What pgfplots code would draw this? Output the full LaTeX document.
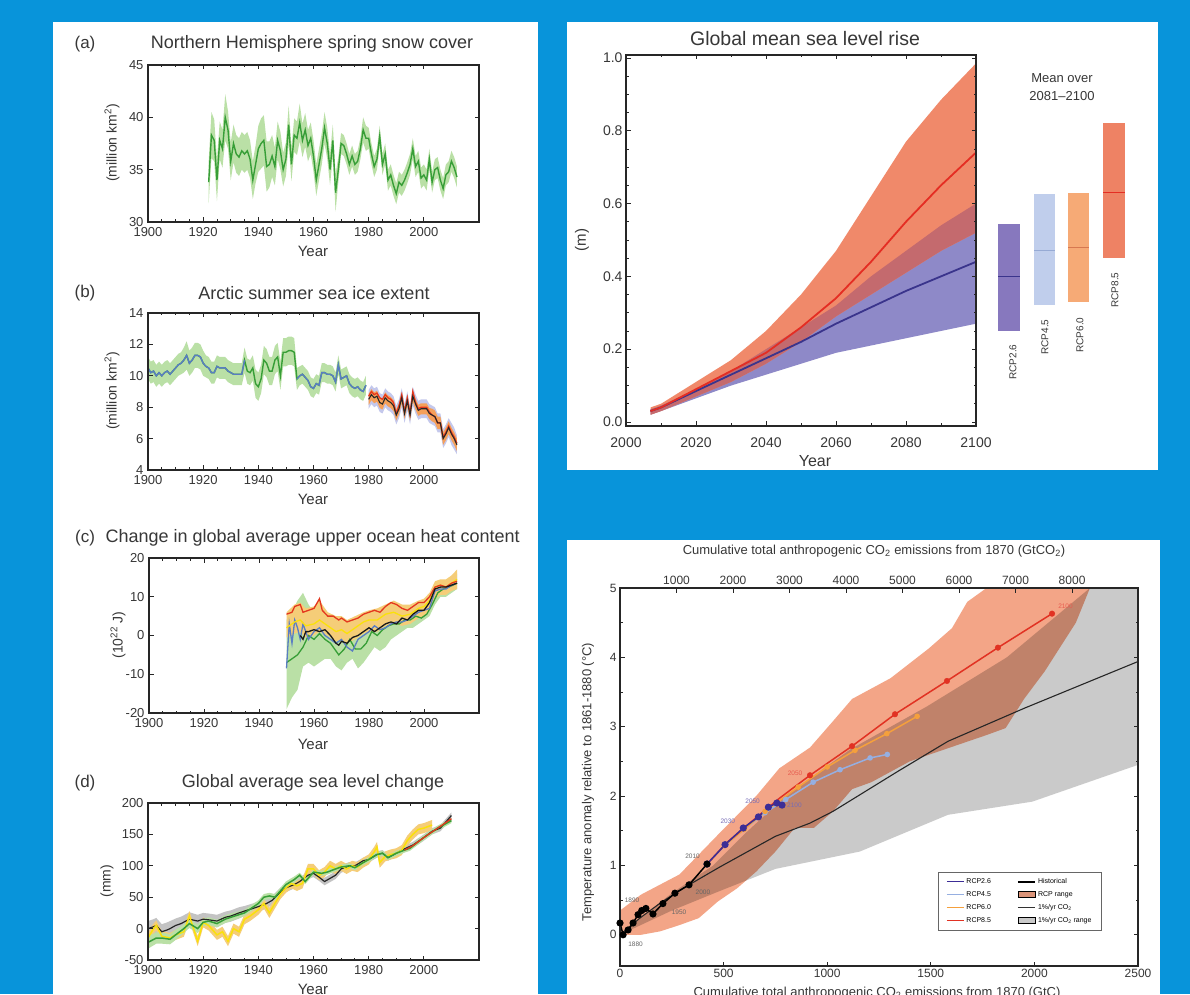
\documentclass[border=0pt]{standalone}
\usepackage{fontspec}
\setmainfont{Liberation Sans}
\usepackage{pgfplots}
\pgfplotsset{compat=1.18}
\usepackage{pgfplotstable}
\usepgfplotslibrary{fillbetween}
\definecolor{bgblue}{RGB}{8,148,218}
\definecolor{txt}{RGB}{55,55,55}
\definecolor{lgreen}{RGB}{55,158,55}
\definecolor{bgreen}{RGB}{186,224,166}
\definecolor{lblue}{RGB}{90,125,195}
\definecolor{bblue}{RGB}{196,200,236}
\definecolor{borange}{RGB}{245,160,90}
\definecolor{lred}{RGB}{228,55,30}
\definecolor{lyellow}{RGB}{250,225,10}
\definecolor{byellow}{RGB}{245,205,120}
\definecolor{bgray}{RGB}{195,195,195}
\definecolor{coral}{RGB}{240,137,106}
\definecolor{purp}{RGB}{142,137,200}
\definecolor{overl}{RGB}{196,106,110}
\definecolor{navy}{RGB}{58,52,140}
\definecolor{rline}{RGB}{228,45,35}
\definecolor{bar26}{RGB}{135,120,190}
\definecolor{bar45}{RGB}{192,206,236}
\definecolor{bar60}{RGB}{246,170,118}
\definecolor{bar85}{RGB}{238,130,100}
\definecolor{med45}{RGB}{150,170,212}
\definecolor{med60}{RGB}{215,120,80}
\definecolor{rcpr}{RGB}{243,165,135}
\definecolor{grayr}{RGB}{202,202,202}
\definecolor{c26}{RGB}{60,45,150}
\definecolor{c45}{RGB}{150,175,225}
\definecolor{c60}{RGB}{245,160,60}
\definecolor{c85}{RGB}{225,50,35}
\newcommand{\fs}[1]{\fontsize{#1}{#1}\selectfont}

\pgfplotstableread{
yr m e
1922 33.8 2.0
1923 38.3 2.2
1924 37.8 2.0
1925 34.0 2.0
1926 37.8 1.8
1927 37.0 1.8
1928 40.0 2.2
1929 38.8 1.8
1930 35.8 1.8
1931 37.5 1.8
1932 36.5 1.8
1933 36.2 1.8
1934 36.8 1.8
1935 36.5 1.8
1936 36.8 1.8
1937 36.0 1.8
1938 34.0 1.8
1939 35.5 1.8
1940 37.0 2.2
1941 37.5 2.4
1942 37.8 2.4
1943 35.3 2.4
1944 35.5 2.2
1945 36.3 2.0
1946 35.3 1.8
1947 37.8 1.8
1948 36.8 1.8
1949 35.0 1.6
1950 36.0 1.6
1951 39.3 1.8
1952 35.5 1.6
1953 38.3 1.6
1954 38.0 1.6
1955 39.5 1.8
1956 37.8 1.6
1957 38.8 1.6
1958 37.3 1.5
1959 38.0 1.5
1960 36.3 1.5
1961 34.0 1.5
1962 35.5 1.5
1963 37.0 1.5
1964 39.0 1.5
1965 37.5 1.5
1966 35.0 1.5
1967 37.8 1.5
1968 32.8 1.8
1969 35.0 1.2
1970 37.5 1.0
1971 37.3 1.0
1972 36.5 1.0
1973 35.5 1.0
1974 36.3 1.0
1975 35.5 1.0
1976 35.8 1.0
1977 37.0 1.0
1978 38.8 1.2
1979 38.0 1.2
1980 38.0 1.0
1981 36.5 1.0
1982 35.3 1.0
1983 36.0 1.0
1984 38.2 1.0
1985 35.5 1.0
1986 36.5 1.0
1987 34.0 1.0
1988 34.5 1.0
1989 33.5 1.0
1990 32.7 1.0
1991 33.8 1.0
1992 33.5 1.0
1993 34.0 1.0
1994 34.7 1.0
1995 35.5 1.0
1996 37.0 1.0
1997 35.3 1.0
1998 35.8 1.0
1999 34.2 1.0
2000 34.5 1.0
2001 34.0 1.0
2002 36.0 1.0
2003 33.8 1.0
2004 35.0 1.0
2005 35.2 1.0
2006 34.0 1.0
2007 33.2 1.0
2008 34.5 1.0
2009 34.8 1.0
2010 35.8 1.0
2011 35.2 1.0
2012 34.3 1.0
}\tabA

\pgfplotstableread{
yr m e
1900 10.5 0.7
1901 10.2 0.7
1902 10.3 0.7
1903 10.0 0.7
1904 10.2 0.7
1905 10.0 0.7
1906 10.2 0.7
1907 10.3 0.7
1908 10.1 0.7
1909 10.3 0.7
1910 10.5 0.7
1911 10.7 0.7
1912 10.8 0.7
1913 11.0 0.8
1914 11.3 0.9
1915 10.8 0.8
1916 11.0 0.8
1917 11.3 0.8
1918 11.3 0.8
1919 11.2 0.8
1920 10.8 0.8
1921 10.6 0.7
1922 10.5 0.7
1923 10.2 0.7
1924 10.2 0.7
1925 10.6 0.7
1926 10.5 0.7
1927 10.5 0.7
1928 10.5 0.7
1929 10.3 0.7
1930 10.2 0.7
1931 10.1 0.7
1932 10.1 0.7
1933 10.1 0.7
1934 10.1 0.7
1935 11.0 0.8
1936 10.3 0.8
1937 10.2 0.8
1938 10.5 0.8
1939 9.5 0.9
1940 9.3 0.9
1941 9.8 0.9
1942 11.0 0.9
1943 10.8 0.9
1944 10.3 0.9
1945 10.3 0.9
1946 11.0 0.9
1947 11.2 0.9
1948 10.0 0.9
1949 11.5 0.9
1950 11.5 0.9
1951 11.6 0.9
1952 11.6 0.9
1953 11.5 0.9
1954 9.8 0.7
1955 10.0 0.6
1956 10.1 0.6
1957 9.9 0.6
1958 9.7 0.6
1959 9.3 0.6
1960 9.2 0.6
1961 9.5 0.6
1962 9.4 0.6
1963 10.2 0.6
1964 10.2 0.6
1965 10.1 0.6
1966 10.1 0.6
1967 10.0 0.6
1968 9.6 0.6
1969 10.7 0.6
1970 9.8 0.6
1971 9.9 0.6
1972 10.0 0.6
1973 9.5 0.6
1974 9.3 0.6
1975 9.2 0.6
1976 9.3 0.6
1977 9.1 0.6
1978 9.0 0.6
1979 9.4 0.6
}\tabB

\pgfplotstableread{
yr k r eb eo
1980 8.5 8.7 0.6 0.35
1981 8.8 9.0 0.6 0.35
1982 8.6 8.8 0.6 0.35
1983 8.7 8.9 0.6 0.35
1984 8.3 8.6 0.6 0.35
1985 8.2 8.5 0.6 0.35
1986 8.6 8.8 0.6 0.35
1987 8.4 8.6 0.6 0.35
1988 8.3 8.5 0.6 0.35
1989 8.1 8.3 0.6 0.35
1990 7.5 7.6 0.6 0.35
1991 7.9 8.1 0.6 0.35
1992 8.6 8.8 0.6 0.35
1993 7.6 7.7 0.6 0.35
1994 8.4 8.6 0.6 0.35
1995 7.5 7.6 0.6 0.35
1996 8.7 9.0 0.6 0.35
1997 8.2 8.3 0.6 0.35
1998 7.8 7.9 0.6 0.35
1999 7.9 8.0 0.6 0.35
2000 7.9 8.0 0.6 0.35
2001 7.9 8.0 0.6 0.35
2002 7.6 7.7 0.6 0.35
2003 7.5 7.5 0.6 0.4
2004 7.4 7.4 0.6 0.4
2005 7.0 7.0 0.6 0.4
2006 7.0 7.0 0.6 0.4
2007 6.0 6.1 0.6 0.4
2008 6.3 6.4 0.6 0.4
2009 6.7 6.8 0.6 0.4
2010 6.3 6.4 0.7 0.4
2011 6.0 6.1 0.7 0.4
2012 5.6 5.7 0.6 0.4
}\tabBb

\pgfplotstableread{
yr k e
1900 0 12
1902 3 12
1903 5 12
1905 -5 12
1907 -2 12
1908 0 12
1910 5 11
1912 8 11
1915 15 11
1918 12 10
1920 15 10
1922 14 10
1925 12 10
1928 18 9
1930 20 9
1933 25 9
1935 28 8
1938 32 8
1940 35 8
1943 40 8
1945 45 7
1948 58 7
1950 65 7
1953 70 6
1955 75 6
1958 85 6
1960 88 6
1962 82 6
1964 75 6
1966 80 6
1968 85 6
1970 95 6
1973 100 6
1975 100 5
1978 108 5
1980 110 5
1983 118 5
1985 120 5
1987 113 5
1990 120 5
1993 127 5
1996 133 5
2000 145 5
2003 155 5
2006 160 5
2008 170 5
2010 180 5
}\tabDk

\pgfplotstableread{
yr g e
1900 -22 10
1903 -15 9
1905 -15 9
1908 -17 8
1910 -10 8
1913 0 7
1915 8 7
1918 0 7
1920 10 6
1922 12 6
1925 8 6
1928 15 6
1930 18 6
1935 25 5
1940 40 5
1942 50 5
1944 52 5
1946 50 5
1950 70 5
1953 78 5
1955 85 4
1957 75 4
1960 90 4
1963 88 4
1965 90 4
1968 95 4
1970 98 4
1973 100 4
1975 97 4
1978 105 4
1980 110 4
1983 118 4
1985 120 4
1987 113 4
1990 120 4
1993 125 4
1995 128 4
2000 145 4
2005 160 4
2010 172 4
}\tabDg

\pgfplotstableread{
yr y e
1900 -15 8
1902 0 8
1903 5 8
1905 -12 8
1908 -15 8
1910 -10 8
1913 -5 8
1915 20 8
1918 -20 8
1920 10 8
1922 5 8
1925 -10 8
1927 -5 8
1929 -20 8
1931 0 8
1933 -5 8
1935 15 8
1937 20 8
1940 30 8
1942 40 8
1944 25 8
1946 40 8
1948 55 8
1950 65 8
1952 72 8
1954 68 8
1956 72 8
1958 95 8
1960 95 8
1962 85 8
1964 90 8
1966 100 8
1968 95 8
1970 100 8
1972 95 8
1974 100 8
1976 98 8
1978 105 8
1980 110 8
1982 122 8
1983 130 8
1984 105 8
1986 115 8
1988 118 8
1990 120 8
1992 125 8
1994 140 8
1996 150 8
1998 158 8
2000 160 8
2003 165 8
}\tabDy

\pgfplotsset{
  base/.style={scale only axis, anchor=south west,
    axis line style={line width=1.1pt, black!85},
    every tick/.style={black!85, line width=0.8pt},
    tick align=inside, major tick length=4.5pt, minor tick length=2.5pt,
    /pgf/number format/1000 sep={}, /pgf/number format/assume math mode=true,
    axis on top, tick label style={text=txt}},
  lp/.style={base, width=331pt, height=157pt, xmin=1900, xmax=2020,
    xtick={1900,1920,1940,1960,1980,2000}, minor x tick num=3,
    tick label style={font=\fs{13}}, xticklabel style={yshift=-1.5pt},
    yticklabel style={xshift=-1pt}},
}

\begin{document}
\begin{tikzpicture}

% ---------- (a)  (also carries the page background on the lowest layer)
\begin{axis}[lp, set layers, clip=false, at={(148pt,772pt)}, ymin=30, ymax=45, ytick={30,35,40,45}]
\begin{pgfonlayer}{axis background}
\fill[bgblue] (rel axis cs:-0.447130,-4.917197) rectangle (rel axis cs:3.148036,1.414013);
\fill[white] (rel axis cs:-0.287009,-4.917197) rectangle (rel axis cs:1.178248,1.273885);
\fill[white] (rel axis cs:1.265861,-1.579618) rectangle (rel axis cs:3.051360,1.273885);
\fill[white] (rel axis cs:1.265861,-4.917197) rectangle (rel axis cs:3.057402,-2.025478);
\end{pgfonlayer}
\addplot[name path=au, draw=none] table[x=yr, y expr=\thisrow{m}+\thisrow{e}] \tabA;
\addplot[name path=al, draw=none] table[x=yr, y expr=\thisrow{m}-\thisrow{e}] \tabA;
\addplot[fill=bgreen, draw=none] fill between[of=au and al];
\addplot[lgreen, line width=1.4pt] table[x=yr, y=m] \tabA;
\end{axis}

% ---------- (b)
\begin{axis}[lp, set layers, at={(148pt,524pt)}, ymin=4, ymax=14, ytick={4,6,8,10,12,14}]
\addplot[name path=bu, draw=none] table[x=yr, y expr=\thisrow{m}+\thisrow{e}] \tabB;
\addplot[name path=bl, draw=none] table[x=yr, y expr=\thisrow{m}-\thisrow{e}] \tabB;
\addplot[fill=bgreen, draw=none] fill between[of=bu and bl];
\addplot[name path=cu, draw=none] table[x=yr, y expr=\thisrow{k}+\thisrow{eb}] \tabBb;
\addplot[name path=cl, draw=none] table[x=yr, y expr=\thisrow{k}-\thisrow{eb}] \tabBb;
\addplot[fill=bblue, draw=none] fill between[of=cu and cl];
\addplot[name path=du, draw=none] table[x=yr, y expr=\thisrow{k}+\thisrow{eo}] \tabBb;
\addplot[name path=dl, draw=none] table[x=yr, y expr=\thisrow{k}-\thisrow{eo}] \tabBb;
\addplot[fill=borange, draw=none] fill between[of=du and dl];
\addplot[lgreen, line width=1.4pt] table[x=yr, y=m] \tabB;
\addplot[lblue, line width=1.4pt, restrict x to domain=1900:1935] table[x=yr, y=m] \tabB;
\addplot[lblue, line width=1.4pt, restrict x to domain=1954:1979] table[x=yr, y=m] \tabB;
\addplot[lred, line width=1.3pt] table[x=yr, y=r] \tabBb;
\addplot[black!85, line width=1.1pt] table[x=yr, y=k] \tabBb;
\end{axis}

% ---------- (c)
\begin{axis}[lp, at={(149pt,281pt)}, width=330pt, height=155pt, ymin=-20, ymax=20, ytick={-20,-10,0,10,20}]
\addplot[fill=bgreen, draw=none] coordinates {(1950,4) (1952,6) (1954,9) (1956,11) (1958,8) (1960,6) (1962,7) (1964,5) (1966,3) (1968,2) (1970,2) (1972,1) (1974,1) (1976,2) (1978,3) (1980,5) (1982,5) (1984,5) (1986,6) (1988,6) (1990,6) (1992,6) (1994,6) (1996,7) (1998,7) (2000,8) (2002,9) (2004,12) (2006,13) (2008,14) (2010,15) (2012,16)
 (2012,12) (2010,11) (2008,10) (2006,10) (2004,8) (2002,5) (2000,4) (1998,3) (1996,2) (1994,2) (1992,1) (1990,0) (1988,-1) (1986,-3) (1984,-4) (1982,-3) (1980,-5) (1978,-7) (1976,-8.5) (1974,-6) (1972,-7) (1970,-9) (1968,-8) (1966,-6) (1964,-6) (1962,-7) (1960,-8) (1958,-7) (1956,-8) (1954,-14) (1952,-16) (1950,-19)};
\addplot[fill=byellow, draw=none] coordinates {(1950,6) (1953,8) (1955,8.5) (1957,7) (1960,7.5) (1962,9) (1965,6) (1968,5) (1970,5) (1972,4) (1975,5) (1978,6) (1980,6.5) (1983,7) (1986,8) (1989,9) (1992,8) (1995,8) (1998,9) (2000,9.5) (2002,11) (2004,14) (2006,14.5) (2008,14.5) (2010,15.5) (2012,17)
 (2012,12) (2010,11.5) (2008,10.5) (2006,10.5) (2004,9.5) (2002,6.5) (2000,5) (1998,4.5) (1995,3) (1992,2.5) (1989,3) (1986,2.5) (1983,1) (1980,1) (1978,0.5) (1975,-1) (1972,-2) (1970,-1) (1968,-1.5) (1965,0) (1962,1) (1960,0) (1957,-0.5) (1955,1) (1953,0.5) (1950,-0.5)};
\addplot[lgreen, line width=1.3pt] coordinates {(1950,-7) (1952,-6) (1954,-5) (1956,-3) (1958,0) (1960,-1) (1962,0.5) (1964,-1) (1966,-2) (1968,-4) (1969,-5) (1971,-3.5) (1973,-1) (1975,-3.5) (1977,-3.5) (1979,-2) (1981,1) (1983,0) (1985,1.5) (1987,2.5) (1989,3) (1991,3) (1993,4) (1995,4) (1997,5) (1999,4.5) (2001,5.5) (2003,8) (2005,11) (2007,12) (2009,12.5) (2012,13.5)};
\addplot[lblue, line width=1.3pt] coordinates {(1950,-8.5) (1951,3) (1952,-2) (1953,4) (1954,2) (1955,-1) (1956,3) (1958,-1) (1960,1) (1962,2) (1964,0) (1966,-1) (1968,-2) (1970,-1) (1972,-3) (1974,-4) (1976,-1) (1978,0) (1980,1) (1982,2.5) (1984,1.5) (1986,2) (1988,3) (1990,3.5) (1992,3.5) (1994,4) (1996,5) (1998,6) (2000,6.5) (2002,7) (2004,11.5) (2006,12) (2008,12) (2010,13) (2012,13.5)};
\addplot[lyellow, line width=1.3pt] coordinates {(1950,2) (1953,3.5) (1955,4) (1957,2.5) (1960,3) (1962,4) (1965,2.5) (1968,1) (1970,1.5) (1972,0.5) (1975,2) (1978,3.5) (1980,4) (1983,4) (1986,5.5) (1989,6) (1992,5) (1995,5.5) (1998,7) (2000,7.5) (2002,9) (2004,12.5) (2006,13) (2008,12.5) (2010,13.5) (2012,14.5)};
\addplot[lred, line width=1.3pt] coordinates {(1950,5.5) (1952,6) (1953,7.5) (1955,8) (1956,6) (1958,6.5) (1960,7) (1962,9.5) (1963,6.5) (1965,5) (1967,5) (1969,4) (1970,4.5) (1972,3.5) (1974,4) (1976,4.5) (1978,5.5) (1980,6) (1982,6.5) (1984,6) (1986,7.5) (1988,8.5) (1990,8) (1992,7) (1994,6.5) (1996,7.5) (1998,8.5) (2000,8.5) (2002,10) (2004,12.5) (2006,13) (2008,12.5) (2010,13.5) (2012,14)};
\addplot[black!90, line width=1.3pt] coordinates {(1955,0) (1956,-1) (1957,1) (1958,1) (1960,1.5) (1962,1) (1964,1.5) (1966,0) (1968,-2) (1969,-2.5) (1970,-1.5) (1972,-2) (1974,-0.5) (1976,0) (1978,1) (1980,2) (1982,1) (1984,2) (1986,3) (1988,3.5) (1990,3) (1992,4.5) (1994,4) (1996,5.5) (1998,6.5) (2000,6.5) (2002,8.5) (2004,12) (2006,12.5) (2008,12.5) (2010,13) (2012,13.5)};
\end{axis}

% ---------- (d)
\begin{axis}[lp, set layers, at={(148pt,34pt)}, ymin=-50, ymax=200, ytick={-50,0,50,100,150,200}]
\addplot[name path=ku, draw=none] table[x=yr, y expr=\thisrow{k}+\thisrow{e}] \tabDk;
\addplot[name path=kl, draw=none] table[x=yr, y expr=\thisrow{k}-\thisrow{e}] \tabDk;
\addplot[fill=bgray, draw=none] fill between[of=ku and kl];
\addplot[name path=yu, draw=none] table[x=yr, y expr=\thisrow{y}+\thisrow{e}] \tabDy;
\addplot[name path=yl, draw=none] table[x=yr, y expr=\thisrow{y}-\thisrow{e}] \tabDy;
\addplot[fill=byellow, draw=none] fill between[of=yu and yl];
\addplot[name path=gu, draw=none] table[x=yr, y expr=\thisrow{g}+\thisrow{e}] \tabDg;
\addplot[name path=gl, draw=none] table[x=yr, y expr=\thisrow{g}-\thisrow{e}] \tabDg;
\addplot[fill=bgreen, draw=none] fill between[of=gu and gl];
\addplot[black!85, line width=1.2pt] table[x=yr, y=k] \tabDk;
\addplot[lyellow, line width=1.5pt] table[x=yr, y=y] \tabDy;
\addplot[lgreen, line width=1.5pt] table[x=yr, y=g] \tabDg;
\addplot[lred, line width=1.3pt] coordinates {(1993,125) (1996,132) (2000,145) (2005,160) (2010,175)};
\end{axis}

% ---------- Global mean sea level rise
\begin{axis}[base, at={(626pt,568pt)}, width=350pt, height=371pt,
  xmin=2000, xmax=2100, ymin=-0.011, ymax=1.008,
  xtick={2000,2020,2040,2060,2080,2100}, minor x tick num=1,
  ytick={0,0.2,0.4,0.6,0.8,1.0}, minor y tick num=3, clip=false,
  tick label style={font=\fs{14}},
  yticklabel style={/pgf/number format/.cd, fixed, fixed zerofill, precision=1},
  xticklabel style={yshift=-8pt}]
\addplot[fill=purp, draw=none] coordinates {(2007,0.035) (2010,0.045) (2020,0.09) (2030,0.14) (2040,0.20) (2050,0.26) (2060,0.32) (2070,0.40) (2080,0.47) (2090,0.54) (2100,0.60)
 (2100,0.27) (2090,0.25) (2080,0.23) (2070,0.21) (2060,0.19) (2050,0.16) (2040,0.13) (2030,0.10) (2020,0.065) (2010,0.03) (2007,0.02)};
\addplot[fill=coral, draw=none] coordinates {(2007,0.04) (2010,0.05) (2020,0.11) (2030,0.17) (2040,0.25) (2050,0.35) (2060,0.47) (2070,0.62) (2080,0.77) (2090,0.885) (2100,0.985)
 (2100,0.52) (2090,0.47) (2080,0.41) (2070,0.35) (2060,0.29) (2050,0.22) (2040,0.16) (2030,0.11) (2020,0.07) (2010,0.03) (2007,0.02)};
\addplot[fill=overl, draw=none] coordinates {(2007,0.035) (2010,0.045) (2020,0.09) (2030,0.14) (2040,0.20) (2050,0.26) (2060,0.32) (2070,0.40) (2080,0.47) (2090,0.54) (2100,0.60)
 (2100,0.52) (2090,0.47) (2080,0.41) (2070,0.35) (2060,0.29) (2050,0.22) (2040,0.16) (2030,0.11) (2020,0.07) (2010,0.03) (2007,0.02)};
\addplot[navy, line width=1.8pt] coordinates {(2007,0.03) (2010,0.04) (2020,0.085) (2030,0.13) (2040,0.175) (2050,0.22) (2060,0.27) (2070,0.315) (2080,0.36) (2090,0.40) (2100,0.44)};
\addplot[rline, line width=1.8pt] coordinates {(2007,0.03) (2010,0.04) (2020,0.09) (2030,0.14) (2040,0.19) (2050,0.26) (2060,0.34) (2070,0.44) (2080,0.55) (2090,0.65) (2100,0.74)};
% bars: mean over 2081-2100
\addplot[fill=bar26, draw=none] coordinates {(2106.3,0.25) (2112.6,0.25) (2112.6,0.545) (2106.3,0.545)};
\addplot[fill=bar45, draw=none] coordinates {(2116.6,0.32) (2122.6,0.32) (2122.6,0.625) (2116.6,0.625)};
\addplot[fill=bar60, draw=none] coordinates {(2126.3,0.33) (2132.3,0.33) (2132.3,0.63) (2126.3,0.63)};
\addplot[fill=bar85, draw=none] coordinates {(2136.3,0.45) (2142.6,0.45) (2142.6,0.82) (2136.3,0.82)};
\addplot[navy, line width=1.2pt] coordinates {(2106.3,0.40) (2112.6,0.40)};
\addplot[med45, line width=1.2pt] coordinates {(2116.6,0.47) (2122.6,0.47)};
\addplot[med60, line width=1.2pt] coordinates {(2126.3,0.48) (2132.3,0.48)};
\addplot[rline, line width=1.2pt] coordinates {(2136.3,0.63) (2142.6,0.63)};
\end{axis}

% ---------- Temperature vs cumulative emissions
\begin{axis}[base, at={(620pt,28pt)}, width=518pt, height=378pt,
  xmin=0, xmax=2500, ymin=-0.45, ymax=5,
  xtick={0,500,1000,1500,2000,2500}, xtick pos=left,
  ytick={0,1,2,3,4,5}, minor y tick num=1,
  tick label style={font=\fs{12}},
  legend style={font=\fs{7}, draw=black!60, line width=0.5pt, fill=white,
    at={(0.93,0.095)}, anchor=south east, inner xsep=8pt, inner ysep=4pt, row sep=2.5pt,
    /tikz/every even column/.append style={column sep=24pt}},
  legend columns=2, legend cell align=left]
\addplot[fill=grayr, draw=none, forget plot] coordinates {(0,0) (250,0.6) (450,1.0) (600,1.45) (800,2.0) (1110,2.67) (1480,3.29) (1867,4.0) (2268,5.0) (2500,5.0)
 (2500,2.45) (1990,1.92) (1583,1.73) (1157,1.2) (750,0.95) (472,0.62) (250,0.35) (0,0)};
\addplot[fill=rcpr, draw=none, blend mode=multiply, forget plot] coordinates {(0,0.35) (102,0.58) (287,0.87) (472,1.44) (657,2.0) (769,2.4) (917,2.7) (1028,3.08) (1120,3.4) (1306,3.7) (1491,4.13) (1602,4.42) (1676,4.8) (1769,5.0) (2268,5.0) (2200,4.5) (2050,3.8) (1950,3.4) (1861,2.98)
 (1769,2.88) (1583,2.69) (1398,2.5) (1213,2.2) (1120,2.1) (1028,1.78) (935,1.54) (843,1.54) (750,1.2) (657,0.91) (565,0.67) (472,0.48) (380,0.24) (287,0.14) (194,0.05) (102,0.0) (28,0.0) (0,0)};
\addplot[black!85, line width=1.1pt, forget plot] coordinates {(0,0) (100,0.25) (200,0.47) (333,0.72) (483,0.98) (750,1.42) (917,1.61) (1028,1.78) (1343,2.36) (1583,2.79) (1954,3.27) (2500,3.94)};
\addplot[c45, line width=1.5pt, mark=*, mark size=2pt, forget plot] coordinates {(420,1.02) (510,1.30) (600,1.52) (700,1.76) (800,1.95) (932,2.2) (1062,2.38) (1207,2.55) (1290,2.6)};
\addplot[c60, line width=1.5pt, mark=*, mark size=2pt, forget plot] coordinates {(420,1.02) (505,1.29) (600,1.52) (700,1.78) (860,2.13) (1000,2.42) (1134,2.66) (1288,2.9) (1434,3.15)};
\addplot[c85, line width=1.5pt, forget plot] coordinates {(420,1.02) (520,1.34) (630,1.62) (770,1.97) (917,2.3) (1120,2.72) (1327,3.18) (1578,3.66) (1824,4.14) (2085,4.63)};
\addplot[c85, only marks, mark=*, mark size=2.8pt, forget plot] coordinates {(917,2.3) (1120,2.72) (1327,3.18) (1578,3.66) (1824,4.14) (2085,4.63)};
\addplot[c26, line width=1.5pt, mark=*, mark size=2.8pt, forget plot] coordinates {(420,1.02) (507,1.30) (595,1.54) (668,1.70) (716,1.84) (757,1.90) (782,1.87)};
\addplot[black, line width=1.5pt, mark=*, mark size=2.8pt, forget plot] coordinates {(0,0.17) (15,0.0) (39,0.07) (63,0.17) (87,0.29) (105,0.35) (125,0.38) (159,0.30) (207,0.45) (265,0.60) (333,0.72) (420,1.02)};
\node[font=\fs{6.5}, text=black!60] at (axis cs:75,-0.14) {1880};
\node[font=\fs{6.5}, text=black!60] at (axis cs:58,0.5) {1890};
\node[font=\fs{6.5}, text=black!60] at (axis cs:285,0.33) {1950};
\node[font=\fs{6.5}, text=black!60] at (axis cs:400,0.62) {2000};
\node[font=\fs{6.5}, text=black!60] at (axis cs:350,1.13) {2010};
\node[font=\fs{6.5}, text=c26!70] at (axis cs:520,1.63) {2030};
\node[font=\fs{6.5}, text=c26!70] at (axis cs:640,1.92) {2050};
\node[font=\fs{6.5}, text=c26!70, anchor=west] at (axis cs:790,1.87) {2100};
\node[font=\fs{6.5}, text=c85!80] at (axis cs:845,2.33) {2050};
\node[font=\fs{6.5}, text=c85!80] at (axis cs:2150,4.74) {2100};
\addlegendimage{c26, line width=1.2pt}\addlegendentry{RCP2.6}
\addlegendimage{black, line width=2pt}\addlegendentry{Historical}
\addlegendimage{c45, line width=1.2pt}\addlegendentry{RCP4.5}
\addlegendimage{area legend, fill=rcpr!90!black, draw=none}\addlegendentry{RCP range}
\addlegendimage{c60, line width=1.2pt}\addlegendentry{RCP6.0}
\addlegendimage{black!80, line width=1.2pt}\addlegendentry{1\%/yr CO\textsubscript{2}}
\addlegendimage{c85, line width=1.2pt}\addlegendentry{RCP8.5}
\addlegendimage{area legend, fill=grayr, draw=none}\addlegendentry{1\%/yr CO\textsubscript{2} range}
\end{axis}
\begin{axis}[base, at={(620pt,28pt)}, width=518pt, height=378pt,
  xmin=0, xmax=9166.7, ymin=0, ymax=1, axis x line*=top, hide y axis,
  xtick={1000,2000,3000,4000,5000,6000,7000,8000},
  tick label style={font=\fs{12}}]
\addplot[draw=none] coordinates {(0,0) (9166.7,1)};
\end{axis}

% ---------- texts
\node[font=\fs{17}, text=txt] at (85pt,950pt) {(a)};
\node[font=\fs{18}, text=txt] at (312pt,950pt) {Northern Hemisphere spring snow cover};
\node[font=\fs{15}, text=txt] at (313pt,743pt) {Year};
\node[font=\fs{14}, text=txt, rotate=90] at (112pt,851pt) {(million km\textsuperscript{2})};

\node[font=\fs{17}, text=txt] at (85pt,701pt) {(b)};
\node[font=\fs{18}, text=txt] at (314pt,701pt) {Arctic summer sea ice extent};
\node[font=\fs{15}, text=txt] at (313pt,495pt) {Year};
\node[font=\fs{14}, text=txt, rotate=90] at (112pt,603pt) {(million km\textsuperscript{2})};

\node[font=\fs{17}, text=txt] at (85pt,456pt) {(c)};
\node[font=\fs{18}, text=txt, anchor=west] at (102pt,456pt) {Change in global average upper ocean heat content};
\node[font=\fs{15}, text=txt] at (313pt,250pt) {Year};
\node[font=\fs{14}, text=txt, rotate=90] at (118pt,359pt) {(10\textsuperscript{22} J)};

\node[font=\fs{17}, text=txt] at (85pt,211pt) {(d)};
\node[font=\fs{18}, text=txt] at (313pt,211pt) {Global average sea level change};
\node[font=\fs{15}, text=txt] at (313pt,5pt) {Year};
\node[font=\fs{14}, text=txt, rotate=90] at (107pt,113pt) {(mm)};

\node[font=\fs{19.5}, text=txt] at (805pt,955pt) {Global mean sea level rise};
\node[font=\fs{15}, text=txt, rotate=90] at (582pt,754pt) {(m)};
\node[font=\fs{16}, text=txt] at (815pt,533pt) {Year};
\node[font=\fs{13}, text=txt] at (1062pt,916pt) {Mean over};
\node[font=\fs{13}, text=txt] at (1062pt,898pt) {2081--2100};
\node[font=\fs{10}, text=txt, rotate=90] at (1013pt,632pt) {RCP2.6};
\node[font=\fs{10}, text=txt, rotate=90] at (1045pt,657pt) {RCP4.5};
\node[font=\fs{10}, text=txt, rotate=90] at (1080pt,659pt) {RCP6.0};
\node[font=\fs{10}, text=txt, rotate=90] at (1115pt,704pt) {RCP8.5};

\node[font=\fs{13}, text=txt] at (874pt,443pt) {Cumulative total anthropogenic CO\textsubscript{2} emissions from 1870 (GtCO\textsubscript{2})};
\node[font=\fs{13}, text=txt, rotate=90] at (588pt,212pt) {Temperature anomaly relative to 1861-1880 (°C)};
\node[font=\fs{13}, text=txt] at (877pt,1pt) {Cumulative total anthropogenic CO\textsubscript{2} emissions from 1870 (GtC)};
\pgfresetboundingbox
\useasboundingbox (0pt,0pt) rectangle (1190pt,994pt);
\end{tikzpicture}
\end{document}
